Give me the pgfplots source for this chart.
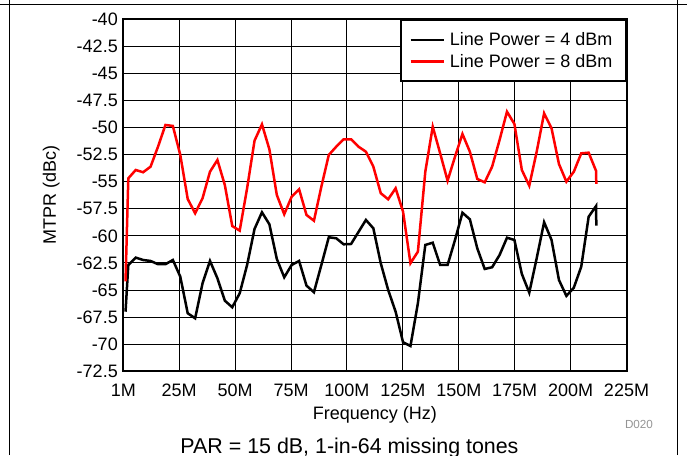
\documentclass[border=0pt]{standalone}
\usepackage{pgfplots}
\pgfplotsset{compat=1.18}
\usepackage{fontspec}
\setmainfont{Liberation Sans}
\usetikzlibrary{calc}
\begin{document}
\begin{tikzpicture}[x=1pt,y=1pt]
\useasboundingbox (0,0) rectangle (687,455);
\draw[line width=1pt] (0,450) -- (687,450);
\draw[line width=1pt] (9,0) -- (9,455);
\draw[line width=1pt] (677.7,0) -- (677.7,455);
\begin{axis}[
  at={(123.3pt,83.9pt)}, anchor=south west, scale only axis,
  width=503.2pt, height=351.6pt,
  xmin=0, xmax=225, ymin=-72.5, ymax=-40,
  xtick={0,25,...,225},
  xticklabels={1M,25M,50M,75M,100M,125M,150M,175M,200M,225M},
  ytick={-72.5,-70,-67.5,-65,-62.5,-60,-57.5,-55,-52.5,-50,-47.5,-45,-42.5,-40},
  yticklabels={-72.5,-70,-67.5,-65,-62.5,-60,-57.5,-55,-52.5,-50,-47.5,-45,-42.5,-40},
  grid=major, major grid style={black, line width=0.9pt},
  axis line style={line width=2pt},
  major tick length=0pt,
  tick label style={font=\fontsize{18}{20}\selectfont},
  xticklabel style={yshift=-9.6pt},
  yticklabel style={xshift=-2pt},
  xlabel={Frequency (Hz)}, ylabel={MTPR (dBc)},
  label style={font=\fontsize{18}{20}\selectfont},
  xlabel style={at={($(rel axis cs:0.5,0)+(0,-48.7pt)$)}, anchor=base},
  ylabel style={at={($(rel axis cs:0,0.5)+(-67.5pt,0)$)}, anchor=base, rotate=0},
  legend style={at={(rel axis cs:1,1)}, anchor=north east, draw=black, line width=2pt,
    fill=white, font=\fontsize{18}{20}\selectfont, inner xsep=8pt, inner ysep=9pt,
    row sep=0pt, column sep=0pt, nodes={inner xsep=5pt, inner ysep=3.4pt}},
  legend cell align=left,
  legend image code/.code={\draw[#1] (0pt,0pt) -- (33pt,0pt);},
]
\addplot[black, line width=2.5pt] coordinates {
(1,-67.01) (2.24,-62.69) (5.56,-62.01) (8.88,-62.23) (12.20,-62.32) (15.52,-62.62)
(18.84,-62.62) (22.16,-62.23) (25.48,-63.77) (28.80,-67.15) (32.12,-67.62) (35.44,-64.38)
(38.76,-62.32) (42.08,-63.92) (45.40,-65.99) (48.72,-66.60) (52.04,-65.31) (55.36,-62.69)
(58.68,-59.36) (62.00,-57.82) (65.32,-58.93) (68.64,-62.13) (71.96,-63.83) (75.28,-62.69)
(78.60,-62.32) (81.92,-64.60) (85.24,-65.21) (88.56,-62.69) (91.88,-60.13) (95.20,-60.22)
(98.52,-60.78) (101.84,-60.75) (105.16,-59.64) (108.48,-58.53) (111.80,-59.30) (115.12,-62.53)
(118.44,-65.00) (121.76,-67.01) (125.08,-69.83) (128.40,-70.18) (131.72,-66.23) (135.04,-60.84)
(138.36,-60.63) (141.68,-62.69) (145.00,-62.69) (148.32,-60.38) (151.64,-57.86) (154.96,-58.47)
(158.28,-61.15) (161.60,-63.06) (164.92,-62.90) (168.24,-61.77) (171.56,-60.17) (174.88,-60.38)
(178.20,-63.52) (181.52,-65.25) (184.84,-62.07) (188.16,-58.74) (191.48,-60.38) (194.80,-64.08)
(198.12,-65.55) (201.44,-64.79) (204.76,-62.85) (208.08,-58.23) (211.40,-57.24) (211.50,-59.06)
};
\addlegendentry{Line Power = 4 dBm}
\addplot[red, line width=2.5pt] coordinates {
(1,-64.2) (2.24,-54.68) (5.56,-53.91) (8.88,-54.12) (12.20,-53.60) (15.52,-51.76)
(18.84,-49.75) (22.16,-49.84) (25.48,-52.52) (28.80,-56.59) (32.12,-57.91) (35.44,-56.52)
(38.76,-54.07) (42.08,-52.99) (45.40,-55.30) (48.72,-59.09) (52.04,-59.52) (55.36,-55.60)
(58.68,-51.20) (62.00,-49.69) (65.32,-52.00) (68.64,-56.22) (71.96,-58.00) (75.28,-56.38)
(78.60,-55.69) (81.92,-58.07) (85.24,-58.60) (88.56,-55.45) (91.88,-52.52) (95.20,-51.76)
(98.52,-51.07) (101.84,-51.07) (105.16,-51.76) (108.48,-52.22) (111.80,-53.60) (115.12,-56.06)
(118.44,-56.62) (121.76,-55.60) (125.08,-57.76) (128.40,-62.53) (131.72,-61.46) (135.04,-54.07)
(138.36,-49.91) (141.68,-52.37) (145.00,-54.90) (148.32,-52.68) (151.64,-50.58) (154.96,-52.22)
(158.28,-54.74) (161.60,-55.05) (164.92,-53.60) (168.24,-51.14) (171.56,-48.52) (174.88,-49.66)
(178.20,-53.91) (181.52,-55.36) (184.84,-52.22) (188.16,-48.67) (191.48,-50.06) (194.80,-53.36)
(198.12,-54.99) (201.44,-54.07) (204.76,-52.37) (208.08,-52.31) (211.40,-54.00) (211.50,-55.20)
};
\addlegendentry{Line Power = 8 dBm}
\end{axis}
\node[anchor=base, font=\fontsize{21.4}{24}\selectfont] at (349.5,1.4) {PAR = 15 dB, 1-in-64 missing tones};
\node[font=\fontsize{11.7}{13}\selectfont, text=black!42] at (639,30.5) {D020};
\end{tikzpicture}
\end{document}
